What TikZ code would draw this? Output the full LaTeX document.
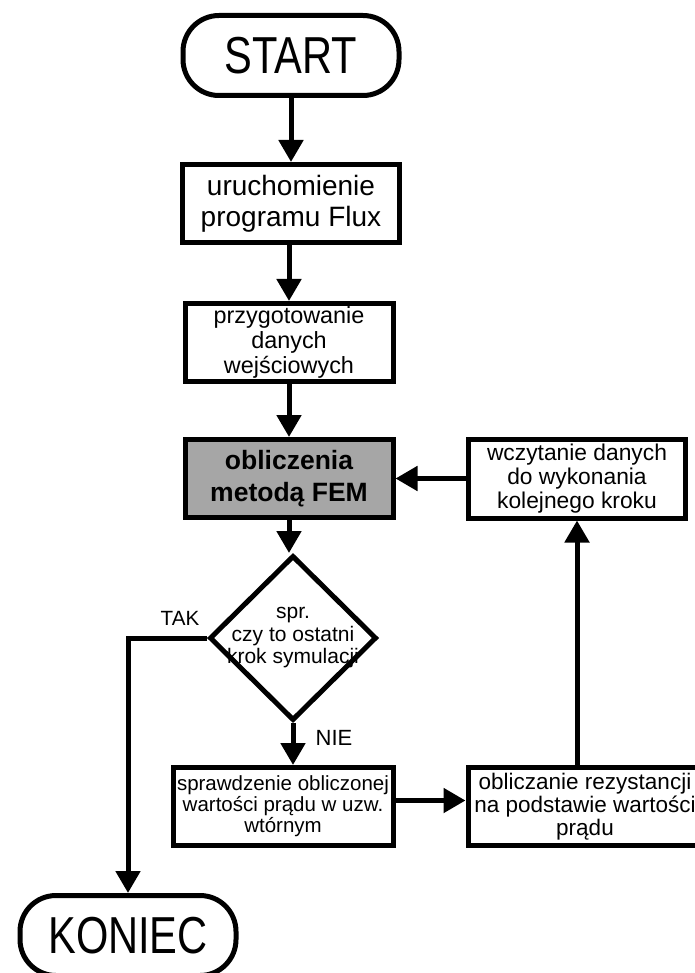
\documentclass[tikz,border=0pt]{standalone}
\usepackage{fontspec}
\setmainfont{Liberation Sans}
\usepackage{tikz}
\usetikzlibrary{arrows.meta,shapes.geometric}

\definecolor{femgray}{RGB}{166,166,166}

\tikzset{
  block/.style={draw, line width=5pt, minimum width=208pt, minimum height=78pt, align=center, inner sep=0pt},
  term/.style={draw, line width=5pt, rounded corners=36pt, minimum width=216pt, minimum height=80pt, inner sep=0pt,
    font=\fontsize{52}{52}\selectfont},
  decision/.style={draw, diamond, line width=5pt, minimum width=167pt, minimum height=165pt, inner sep=0pt},
  flow/.style={line width=5pt, -{Triangle[width=24pt,length=22pt]}},
}

\begin{document}
\begin{tikzpicture}[x=1pt,y=1pt]
  \useasboundingbox (0,0) rectangle (694,-973);

  % main column
  \node[term] (start) at (291,-55.5) {\scalebox{0.8}[1]{START}};
  \node[block, minimum width=217pt, font=\fontsize{28}{31}\selectfont] (flux) at (291,-203.5)
    {uruchomienie\\programu Flux};
  \node[block, font=\fontsize{23.4}{25}\selectfont] (prep) at (289,-342.5)
    {przygotowanie\\danych\\wejściowych};
  \node[block, fill=femgray, font=\fontsize{26.5}{32}\selectfont\bfseries] (fem) at (289,-478.5)
    {obliczenia\\metodą FEM};
  \node[decision, label={[align=center, font=\fontsize{21}{22.5}\selectfont]center:spr.\\czy to ostatni\\krok symulacji}]
    (check) at (293,-638) {};

  % loop on the right
  \node[block, minimum width=217pt, minimum height=79pt, font=\fontsize{22.8}{24}\selectfont] (next) at (577,-478.5)
    {wczytanie danych\\do wykonania\\kolejnego kroku};
  \node[block, minimum width=220pt, font=\fontsize{20.5}{21}\selectfont] (current) at (283,-806.5)
    {sprawdzenie obliczonej\\wartości prądu w uzw.\\wtórnym};
  \node[block, minimum width=234pt, font=\fontsize{22.5}{23}\selectfont] (resist) at (585,-806.5)
    {obliczanie rezystancji\\na podstawie wartości\\prądu};

  \node[term] (stop) at (128,-935.5) {\scalebox{0.8}[1]{KONIEC}};

  % branch labels
  \node[font=\fontsize{20.6}{20.6}\selectfont] (yes) at (180,-618) {TAK};
  \node[font=\fontsize{22}{22}\selectfont] (no) at (334,-738) {NIE};

  \draw[flow] (start) -- (start |- flux.north);
  \draw[flow] (flux.south -| prep) -- (prep.north);
  \draw[flow] (prep) -- (fem);
  \draw[flow] (fem.south) -- (fem.south |- check.north);
  \draw[flow] (check.south) -- (check.south |- current.north);
  \draw[flow] (check.west) -| (stop.north);
  \draw[flow] ([yshift=6pt]current.east) -- ([yshift=6pt]current.east -| resist.west);
  \draw[flow] (resist.north -| next) -- (next.south);
  \draw[flow] (next.west) -- (fem.east);
\end{tikzpicture}
\end{document}
